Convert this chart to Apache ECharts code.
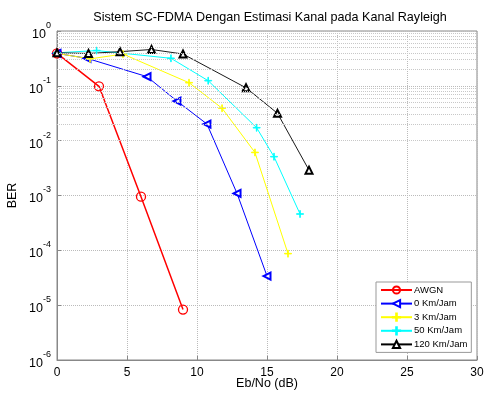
<!DOCTYPE html>
<html>
<head>
<meta charset="utf-8">
<script src="https://cdn.jsdelivr.net/npm/echarts@6/dist/echarts.min.js"></script>
<style>html,body{margin:0;padding:0;background:#fff}#c{width:484px;height:396px}</style>
</head>
<body>
<div id="c"></div>
<script>
var titleText = 'Sistem SC-FDMA Dengan Estimasi Kanal pada Kanal Rayleigh';
var xName = 'Eb/No (dB)';
var yName = 'BER';
var xTicks = [0, 5, 10, 15, 20, 25, 30];
var seriesNames = ['AWGN', '0 Km/Jam', '3 Km/Jam', '50 Km/Jam', '120 Km/Jam'];

var awgnX = [0, 3, 6, 9];
var awgnY = [0.39, 0.098, 9.5e-4, 8.3e-6];

var km0X = [0, 2.14, 6.43, 8.57, 10.71, 12.86, 15];
var km0Y = [0.39, 0.318, 0.147, 0.0528, 0.0201, 1.09e-3, 3.4e-5];

var km3X = [0, 2.36, 4.71, 9.43, 11.79, 14.14, 16.5];
var km3Y = [0.39, 0.31, 0.38, 0.114, 0.039, 6.1e-3, 8.7e-5];

var km50X = [0, 2.83, 8.14, 10.8, 14.26, 15.5, 17.36];
var km50Y = [0.40, 0.44, 0.318, 0.124, 0.0172, 5.1e-3, 4.6e-4];

var km120X = [0, 2.25, 4.5, 6.75, 9, 13.5, 15.75, 18];
var km120Y = [0.40, 0.39, 0.42, 0.46, 0.38, 0.092, 0.0315, 2.9e-3];

function pairs(xs, ys) { return xs.map(function (x, i) { return [x, ys[i]]; }); }

var minorLines = [];
for (var k = -6; k <= -1; k++) {
  for (var d = 2; d <= 9; d++) minorLines.push({ yAxis: d * Math.pow(10, k) });
}

var FONT = 'Liberation Sans, Arial, sans-serif';
var plusPath = 'path://M4.55,0h0.9v10h-0.9z M0,4.55h10v0.9h-10z';

function mk(name, data, color, symbol, size, width, extra) {
  var s = {
    name: name, type: 'line', data: data,
    symbol: symbol, symbolSize: size,
    showAllSymbol: true,
    lineStyle: { color: color, width: width },
    itemStyle: { color: color, borderColor: color, borderWidth: 0.9 },
    emphasis: { disabled: true },
    animation: false
  };
  for (var key in extra) s[key] = extra[key];
  return s;
}

var series = [
  mk(seriesNames[0], pairs(awgnX, awgnY), '#ff0000', 'circle', 9, 1.5, {
    itemStyle: { color: 'rgba(0,0,0,0)', borderColor: '#ff0000', borderWidth: 1.3 },
    markLine: {
      silent: true, symbol: ['none', 'none'], label: { show: false },
      lineStyle: { color: '#c8c8c8', type: 'dotted', width: 1 },
      data: minorLines, animation: false
    }
  }),
  mk(seriesNames[1], pairs(km0X, km0Y), '#0000ff', 'emptyTriangle', 7, 1, { symbolRotate: 90 }),
  mk(seriesNames[2], pairs(km3X, km3Y), '#ffff00', plusPath, 7, 1, {}),
  mk(seriesNames[3], pairs(km50X, km50Y), '#00ffff', plusPath, 7, 1, {}),
  mk(seriesNames[4], pairs(km120X, km120Y), '#000000', 'emptyTriangle', 7, 0.9, {})
];

var chart = echarts.init(document.getElementById('c'), null, { renderer: 'canvas' });
chart.setOption({
  backgroundColor: '#ffffff',
  animation: false,
  textStyle: { fontFamily: FONT },
  title: {
    text: titleText, left: 265, top: 6, textAlign: 'center',
    textStyle: { fontSize: 12.6, fontWeight: 'normal', color: '#000', fontFamily: FONT }
  },
  grid: { left: 57, right: 7, top: 31, bottom: 36, show: true, borderColor: '#888', borderWidth: 1,
          containLabel: false, outerBoundsMode: 'none' },
  legend: {
    data: seriesNames, orient: 'vertical', left: 376, top: 282,
    itemWidth: 31, itemHeight: 9, itemGap: 3.6,
    padding: [3, 4, 3, 4],
    backgroundColor: '#fff', borderColor: '#999', borderWidth: 1,
    textStyle: { fontSize: 9.5, color: '#000', fontFamily: FONT, padding: [0, 0, 0, -3] },
    selectedMode: false
  },
  xAxis: {
    type: 'value', min: xTicks[0], max: xTicks[xTicks.length - 1], interval: 5,
    name: xName, nameLocation: 'middle', nameGap: 17, nameMoveOverlap: false,
    nameTextStyle: { fontSize: 12.5, color: '#000', fontFamily: FONT },
    axisLine: { show: true, lineStyle: { color: '#888' } },
    axisTick: { inside: true, length: 4, lineStyle: { color: '#888' } },
    axisLabel: { fontSize: 12, color: '#000', margin: 7, fontFamily: FONT },
    splitLine: { show: true, lineStyle: { color: '#bbb', type: 'dotted' } }
  },
  yAxis: {
    type: 'log', logBase: 10, min: 1e-6, max: 1,
    name: yName, nameLocation: 'middle', nameGap: 38, nameRotate: 90, nameMoveOverlap: false,
    nameTextStyle: { fontSize: 12.5, color: '#000', fontFamily: FONT },
    axisLine: { show: true, lineStyle: { color: '#888' } },
    axisTick: { inside: true, length: 4, lineStyle: { color: '#888' } },
    axisLabel: {
      margin: 6, color: '#000',
      formatter: function (v) {
        var e = Math.round(Math.log10(v));
        return '{b|10}{s|' + e + '}';
      },
      rich: {
        b: { fontSize: 12.5, fontFamily: FONT, color: '#000', padding: [7, 0, 0, 0] },
        s: { fontSize: 9, fontFamily: FONT, color: '#000', verticalAlign: 'top', padding: [0, 0, 0, 0] }
      }
    },
    splitLine: { show: true, lineStyle: { color: '#bbb', type: 'dotted' } }
  },
  series: series
});
</script>
</body>
</html>
